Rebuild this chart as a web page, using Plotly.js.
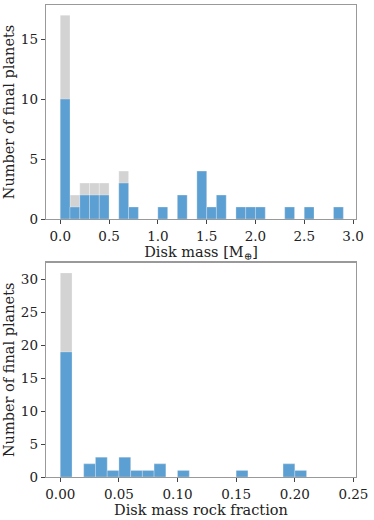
<!DOCTYPE html>
<html>
<head>
    <script src="https://cdn.plot.ly/plotly-3.0.1.min.js"></script>
    <style>
        body { margin: 0; padding: 0; }
    </style>
</head>
<body>
    <div id="myDiv" style="width: 374px; height: 520px;"></div>
    <script>
        // 디스크 질량 히스토그램 (bin 폭 0.1)
        var massBinStart = 0.0;
        var massBinWidth = 0.1;
        var massAll  = [17, 2, 3, 3, 3, 0, 4, 1, 0, 0, 1, 0, 2, 0, 4, 1, 2, 0, 1, 1, 1, 0, 0, 1, 0, 1, 0, 0, 1];
        var massRock = [10, 1, 2, 2, 2, 0, 3, 1, 0, 0, 1, 0, 2, 0, 4, 1, 2, 0, 1, 1, 1, 0, 0, 1, 0, 1, 0, 0, 1];
        var massTicks = [0.0, 0.5, 1.0, 1.5, 2.0, 2.5, 3.0];

        // 암석 비율 히스토그램 (bin 폭 0.01)
        var fracBinStart = 0.0;
        var fracBinWidth = 0.01;
        var fracAll  = [31, 0, 2, 3, 1, 3, 1, 1, 2, 0, 1, 0, 0, 0, 0, 1, 0, 0, 0, 2, 1];
        var fracRock = [19, 0, 2, 3, 1, 3, 1, 1, 2, 0, 1, 0, 0, 0, 0, 1, 0, 0, 0, 2, 1];
        var fracTicks = [0.00, 0.05, 0.10, 0.15, 0.20, 0.25];

        function centers(start, width, n) {
            var c = [];
            for (var i = 0; i < n; i++) c.push(start + width * (i + 0.5));
            return c;
        }

        var gray = '#d3d3d3';
        var blue = '#5b9fd3';
        var edge = {color: 'rgba(255,255,255,0.35)', width: 0.8};

        var data = [
            {type: 'bar', x: centers(massBinStart, massBinWidth, massAll.length), y: massAll,
             width: massBinWidth, marker: {color: gray, line: edge}, xaxis: 'x', yaxis: 'y'},
            {type: 'bar', x: centers(massBinStart, massBinWidth, massRock.length), y: massRock,
             width: massBinWidth, marker: {color: blue, line: edge}, xaxis: 'x', yaxis: 'y'},
            {type: 'bar', x: centers(fracBinStart, fracBinWidth, fracAll.length), y: fracAll,
             width: fracBinWidth, marker: {color: gray, line: edge}, xaxis: 'x2', yaxis: 'y2'},
            {type: 'bar', x: centers(fracBinStart, fracBinWidth, fracRock.length), y: fracRock,
             width: fracBinWidth, marker: {color: blue, line: edge}, xaxis: 'x2', yaxis: 'y2'}
        ];

        var tickFont = {family: 'DejaVu Serif', size: 13.5, color: '#222'};
        var titleFont = {family: 'DejaVu Serif', size: 14.5, color: '#222'};
        var axisBase = {
            showline: true, mirror: true, linecolor: '#999', linewidth: 1.3,
            ticks: 'outside', ticklen: 4, tickcolor: '#444', tickwidth: 1,
            showgrid: false, zeroline: false, tickfont: tickFont, fixedrange: true
        };

        function ax(extra) {
            var o = {};
            for (var k in axisBase) o[k] = axisBase[k];
            for (var k2 in extra) o[k2] = extra[k2];
            return o;
        }

        var layout = {
            width: 374,
            height: 520,
            margin: {l: 46, r: 18, t: 5, b: 43},
            paper_bgcolor: 'white',
            plot_bgcolor: 'white',
            barmode: 'overlay',
            bargap: 0,
            showlegend: false,
            xaxis: ax({domain: [0, 1], range: [-0.146, 3.03], anchor: 'y',
                tickvals: massTicks, ticktext: massTicks.map(function (v) { return v.toFixed(1); }),
                title: {text: 'Disk mass [M<sub>⊕</sub>]', font: titleFont, standoff: 2}}),
            yaxis: ax({domain: [0.5466, 1], range: [0, 17.85], anchor: 'x',
                tickvals: [0, 5, 10, 15],
                title: {text: 'Number of final planets', font: titleFont, standoff: 2}}),
            xaxis2: ax({domain: [0, 1], range: [-0.0122, 0.2522], anchor: 'y2',
                tickvals: fracTicks, ticktext: fracTicks.map(function (v) { return v.toFixed(2); }),
                title: {text: 'Disk mass rock fraction', font: titleFont, standoff: 2}}),
            yaxis2: ax({domain: [0, 0.454], range: [0, 32.55], anchor: 'x2',
                tickvals: [0, 5, 10, 15, 20, 25, 30],
                title: {text: 'Number of final planets', font: titleFont, standoff: 2}})
        };

        var config = {displayModeBar: false, staticPlot: true};

        Plotly.newPlot('myDiv', data, layout, config);
    </script>
</body>
</html>
